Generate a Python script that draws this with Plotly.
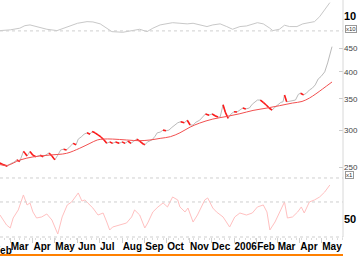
import pandas as pd
import plotly.graph_objects as go

# ---------------- data ----------------
price_dates = ["2005-02-15","2005-02-19","2005-02-25","2005-03-01","2005-03-06","2005-03-10","2005-03-14",
    "2005-03-19","2005-03-21","2005-03-24","2005-03-28","2005-04-01","2005-04-05","2005-04-11","2005-04-15",
    "2005-04-19","2005-04-23","2005-04-27","2005-05-01","2005-05-05","2005-05-09","2005-05-13","2005-05-17",
    "2005-05-22","2005-05-26","2005-05-30","2005-06-02","2005-06-06","2005-06-10","2005-06-14","2005-06-18",
    "2005-06-21","2005-06-25","2005-06-29","2005-07-03","2005-07-07","2005-07-11","2005-07-15","2005-07-19",
    "2005-07-23","2005-07-28","2005-08-01","2005-08-05","2005-08-09","2005-08-13","2005-08-17","2005-08-21",
    "2005-08-25","2005-08-30","2005-09-01","2005-09-05","2005-09-11","2005-09-15","2005-09-18","2005-09-22",
    "2005-09-26","2005-09-30","2005-10-04","2005-10-08","2005-10-12","2005-10-16","2005-10-20","2005-10-25",
    "2005-10-29","2005-11-02","2005-11-06","2005-11-10","2005-11-15","2005-11-19","2005-11-23","2005-11-28",
    "2005-12-02","2005-12-06","2005-12-10","2005-12-13","2005-12-17","2005-12-20","2005-12-24","2005-12-28",
    "2006-01-01","2006-01-05","2006-01-09","2006-01-13","2006-01-17","2006-01-22","2006-01-26","2006-01-30",
    "2006-02-02","2006-02-06","2006-02-10","2006-02-14","2006-02-18","2006-02-22","2006-02-26","2006-03-02",
    "2006-03-06","2006-03-09","2006-03-11","2006-03-14","2006-03-18","2006-03-22","2006-03-26","2006-03-30",
    "2006-04-02","2006-04-06","2006-04-10","2006-04-14","2006-04-18","2006-04-22","2006-04-26","2006-04-30",
    "2006-05-05","2006-05-09","2006-05-12","2006-05-15"]
price_close = [255,253,251,254,256,259,257,
    270,268,264,270,265,263,265,263,
    266,268,264,259,265,272,273,272,
    277,281,279,287,290,294,296,294,
    298,296,293,290,286,281,283,281,
    283,281,283,281,284,281,284,287,
    284,280,279,283,286,291,296,297,
    300,299,300,304,307.6,311,312.7,311,
    315,307.6,307.6,312,315,320,325,323,
    325,322,320,320,340,328,318,325,
    328.5,328,331,334.6,333,334.6,341,346,
    348,348,344,339.6,334.6,331,336,339.6,
    344,345,356.8,345,346,348,348,358,
    360,357,360,365.7,369,375,386,391,
    400,418,435,453]

ma_dates = ["2005-02-15","2005-02-25","2005-03-14","2005-04-01","2005-04-24","2005-05-17","2005-06-04",
    "2005-06-18","2005-06-28","2005-07-06","2005-07-19","2005-08-07","2005-08-25","2005-09-08","2005-09-22",
    "2005-10-06","2005-10-19","2005-11-02","2005-11-15","2005-12-03","2005-12-22","2006-01-09","2006-01-27",
    "2006-02-15","2006-03-04","2006-03-22","2006-04-04","2006-04-14","2006-04-23","2006-05-02","2006-05-15"]
ma_values = [253,252,258.7,262.8,265.2,267.5,274.3,
    281,285.7,287,287,285.7,284.7,285.7,288,
    290.4,296,304.5,310.6,316.8,320.9,325.3,330.6,
    334.5,338.4,342.9,345.6,351.4,358.9,367.5,380.5]

top_dates = ["2005-02-15","2005-03-01","2005-03-14","2005-03-21","2005-03-28","2005-04-06","2005-04-20",
    "2005-05-04","2005-05-18","2005-06-01","2005-06-14","2005-06-22","2005-07-02","2005-07-11","2005-07-18",
    "2005-08-02","2005-08-16","2005-08-25","2005-09-04","2005-09-12","2005-09-22","2005-10-09","2005-10-19",
    "2005-10-29","2005-11-06","2005-11-15","2005-11-25","2005-12-03","2005-12-13","2005-12-22","2005-12-26",
    "2005-12-30","2006-01-09","2006-01-18","2006-02-02","2006-02-10","2006-02-19","2006-02-23","2006-03-04",
    "2006-03-11","2006-03-18","2006-03-28","2006-04-05","2006-04-14","2006-04-21","2006-04-28","2006-05-05",
    "2006-05-12"]
top_values = [0.2,0.7,1.8,3.5,4.0,2.9,1.1,
    0.2,2.5,5.1,6.2,6.0,4.7,1.8,-0.5,
    -0.9,0.2,1.1,-0.5,1.8,4.0,5.5,5.1,
    4.7,5.1,4.0,2.9,4.0,4.7,2.9,1.8,
    1.1,2.9,3.3,5.5,4.7,1.8,0.2,1.1,
    3.8,2.9,2.9,4.7,5.5,6.2,9.5,14.0,
    18.9]

rsi_dates = ["2005-02-15","2005-02-24","2005-03-01","2005-03-05","2005-03-12","2005-03-19","2005-03-24",
    "2005-03-28","2005-04-01","2005-04-06","2005-04-13","2005-04-20","2005-04-27","2005-05-01","2005-05-05",
    "2005-05-11","2005-05-18","2005-05-24","2005-06-02","2005-06-07","2005-06-11","2005-06-15","2005-06-22",
    "2005-06-29","2005-07-06","2005-07-11","2005-07-15","2005-07-19","2005-07-29","2005-08-07","2005-08-14",
    "2005-08-18","2005-08-25","2005-09-01","2005-09-05","2005-09-12","2005-09-19","2005-09-26","2005-10-02",
    "2005-10-09","2005-10-16","2005-10-19","2005-10-26","2005-10-30","2005-11-06","2005-11-12","2005-11-22",
    "2005-11-26","2005-12-03","2005-12-08","2005-12-17","2005-12-26","2006-01-02","2006-01-09","2006-01-18",
    "2006-01-26","2006-02-02","2006-02-10","2006-02-15","2006-02-19","2006-02-26","2006-03-04","2006-03-11",
    "2006-03-15","2006-03-22","2006-03-29","2006-04-03","2006-04-07","2006-04-14","2006-04-21","2006-04-28",
    "2006-05-05","2006-05-12"]
rsi_values = [55.1,43.7,40.3,51.7,60.9,78,66.6,
    68.9,58.6,51.7,52.9,56.3,49.4,40.3,33.4,
    52.9,66.6,70,80.3,71.1,72.3,68.9,63.1,
    55.1,57.4,47.1,38,41.4,43.7,46,52.9,
    60.9,55.1,40.3,46,58.6,64.3,68.9,64.3,
    75.7,72.3,64.3,58.6,63.1,47.1,55.1,72.3,
    74.6,63.1,58.6,52.9,41.4,52.9,57.4,55.1,
    57.4,64.3,66.6,58.6,38,47.1,57.4,70,
    51.7,52.9,58.6,64.3,57.4,70,72.3,75.7,
    81.4,89.4]

month_ticks = ["2005-03-01","2005-04-01","2005-05-01","2005-06-01","2005-07-01","2005-08-01","2005-09-01",
    "2005-10-01","2005-11-01","2005-12-01","2006-01-01","2006-02-01","2006-03-01","2006-04-01","2006-05-01"]
month_labels = ["Mar","Apr","May","Jun","Jul","Aug","Sep","Oct","Nov","Dec","2006","Feb","Mar","Apr","May"]
first_month = ("2005-02-01", "Feb")   # partly cut off at the left edge
price_ticks = [250, 300, 350, 400, 450]
x_range = ["2005-02-15", "2006-05-30"]

# ---------------- build figure ----------------
# red segments for falling moves
down_x, down_y = [], []
for i in range(1, len(price_close)):
    if price_close[i] < price_close[i - 1]:
        down_x += [price_dates[i - 1], price_dates[i], None]
        down_y += [price_close[i - 1], price_close[i], None]

fig = go.Figure()
fig.add_trace(go.Scatter(x=top_dates, y=top_values, yaxis="y2", mode="lines",
                         line=dict(color="#c8c8c8", width=1), hoverinfo="skip"))
fig.add_trace(go.Scatter(x=price_dates, y=price_close, yaxis="y", mode="lines",
                         line=dict(color="#bababa", width=1), hoverinfo="skip"))
fig.add_trace(go.Scatter(x=down_x, y=down_y, yaxis="y", mode="lines",
                         line=dict(color="#ff1a1a", width=1.6), hoverinfo="skip"))
fig.add_trace(go.Scatter(x=ma_dates, y=ma_values, yaxis="y", mode="lines", line_shape="spline",
                         line=dict(color="#f25050", width=1), hoverinfo="skip"))
fig.add_trace(go.Scatter(x=rsi_dates, y=rsi_values, yaxis="y3", mode="lines",
                         line=dict(color="#ffc0c0", width=1), hoverinfo="skip"))

tickfont = dict(family="Liberation Sans", size=10, color="#000", weight="bold")
bold = dict(family="Liberation Sans", size=11, color="#000", weight="bold")
fig.update_layout(
    width=358, height=256,
    margin=dict(l=0, r=15, t=0, b=19),
    paper_bgcolor="white", plot_bgcolor="white",
    showlegend=False,
    xaxis=dict(type="date", range=x_range, anchor="y3",
               tickmode="array", tickvals=month_ticks, ticktext=month_labels,
               tickangle=0,
               ticks="outside", ticklen=5, tickcolor="#cfcfcf",
               ticklabelposition="outside right",
               tickfont=tickfont,
               minor=dict(ticks="outside", ticklen=2, tickcolor="#dcdcdc",
                          dtick=7 * 86400000, tick0="2005-02-14"),
               showgrid=False, zeroline=False, showline=False),
    yaxis=dict(type="log", domain=[0.249, 0.869], side="right",
               range=[2.3744, 2.6896],
               tickmode="array", tickvals=price_ticks, ticktext=[str(v) for v in price_ticks],
               ticks="inside", ticklen=4, tickcolor="#cccccc",
               tickfont=dict(family="Liberation Sans", size=8, color="#444"),
               showgrid=False, zeroline=False, showline=False),
    yaxis2=dict(domain=[0.857, 1.0], side="right", range=[-2, 20.67], anchor="x",
                tickmode="array", tickvals=[10], ticktext=["10"], tickfont=bold,
                ticks="", showgrid=False, zeroline=False, showline=False),
    yaxis3=dict(domain=[0.0, 0.249], side="right", range=[30, 97.4], anchor="x",
                tickmode="array", tickvals=[50], ticktext=["50"], tickfont=bold,
                ticks="", showgrid=False, zeroline=False, showline=False),
)

dot = dict(color="#cfcfcf", width=1, dash="dot")
fig.add_shape(type="line", xref="paper", yref="y2", x0=0, x1=1, y0=0, y1=0, line=dot)
fig.add_shape(type="line", xref="paper", yref="paper", x0=0, x1=1, y0=0.249, y1=0.249, line=dot)
fig.add_shape(type="line", xref="paper", yref="y3", x0=0, x1=1, y0=70, y1=70, line=dot)
fig.add_shape(type="line", xref="paper", yref="paper", x0=0, x1=1, y0=0, y1=0, line=dot)
fig.add_shape(type="line", xref="paper", yref="paper", x0=1, x1=1, y0=0, y1=1,
              line=dict(color="#d8d8d8", width=1))
fig.add_shape(type="line", xref="paper", yref="paper", x0=0, x1=1, y0=-0.076, y1=-0.076,
              line=dict(color="#ff8000", width=2))

# month label whose tick lies just before the visible range (placed via the axis span)
r0, r1 = pd.Timestamp(x_range[0]), pd.Timestamp(x_range[1])
feb_frac = (pd.Timestamp(first_month[0]) - r0) / (r1 - r0)
fig.add_annotation(text=first_month[1], x=feb_frac, xref="paper", yref="paper",
                   y=-0.055, xanchor="left", yanchor="middle", xshift=2,
                   showarrow=False, font=tickfont)

box = dict(family="Liberation Sans", size=6, color="#333")
fig.add_annotation(text="x10", xref="paper", yref="paper", x=1.006, y=(237 - 29) / 237,
                   xanchor="left", yanchor="middle", showarrow=False, font=box,
                   bordercolor="#999", borderwidth=1, borderpad=0, bgcolor="white")
fig.add_annotation(text="x1", xref="paper", yref="paper", x=1.006, y=(237 - 175) / 237,
                   xanchor="left", yanchor="middle", showarrow=False, font=box,
                   bordercolor="#999", borderwidth=1, borderpad=0, bgcolor="white")

fig.write_html("out.html")
